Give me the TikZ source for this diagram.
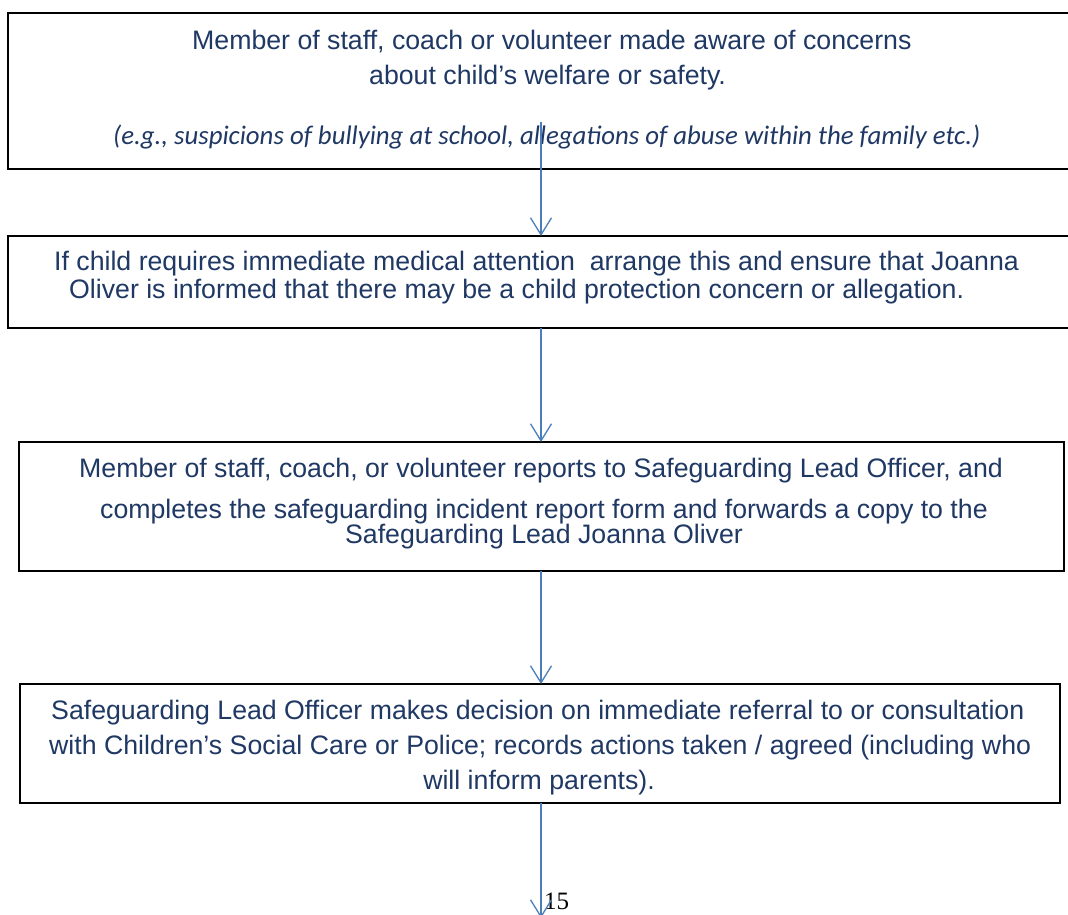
\documentclass[tikz,border=0pt]{standalone}
\usepackage{fontspec}
\setmainfont{Liberation Sans}
\newfontfamily\calibfont{Carlito}
\newfontfamily\seriffont{Liberation Serif}
\usetikzlibrary{arrows.meta}
\definecolor{navy}{HTML}{1F3864}
\definecolor{flowblue}{HTML}{4A7EBB}
\begin{document}
\begin{tikzpicture}[x=1pt,y=-1pt,
  box/.style={draw=black,line width=2pt,anchor=north west,inner sep=0pt,outer sep=0pt},
  txt/.style={text=navy,font=\fontsize{26.7}{30}\selectfont,inner sep=0pt,anchor=base},
  txtw/.style={txt,anchor=base west},
  note/.style={text=navy,font=\calibfont\itshape\fontsize{26.8}{30}\selectfont,inner sep=0pt,anchor=base west},
  flow/.style={draw=flowblue,line width=1.3pt,-{Straight Barb[length=17pt,width=21pt]}}]
\useasboundingbox (0,0) rectangle (1068,915);
\fill[white] (0,0) rectangle (1068,915);
% boxes
\node[box,minimum width=1067pt,minimum height=156pt] (b1) at (8,13) {};
\node[box,minimum width=1067pt,minimum height=92pt] (b2) at (8,236) {};
\node[box,minimum width=1045pt,minimum height=129pt] (b3) at (19,442) {};
\node[box,minimum width=1040pt,minimum height=119pt] (b4) at (20,684) {};
% box texts
\node[txtw] (t11) at (192,50) {Member of staff, coach or volunteer made aware of concerns};
\node[txtw] (t12) at (369,85) {about child’s welfare or safety.};
\node[note] (t13) at (113,145) {(e.g., suspicions of bullying at school, allegations of abuse within the family etc.)};
\node[txtw] (t21) at (54,270) {If child requires immediate medical attention\ \ arrange this and ensure that Joanna};
\node[txtw] (t22) at (69,298) {Oliver is informed that there may be a child protection concern or allegation.};
\node[txtw] (t31) at (79,477) {Member of staff, coach, or volunteer reports to Safeguarding Lead Officer, and};
\node[txtw] (t32) at (100,518) {completes the safeguarding incident report form and forwards a copy to the};
\node[txt] (t33) at (544,543) {Safeguarding Lead Joanna Oliver};
\node[txtw] (t41) at (51,719) {Safeguarding Lead Officer makes decision on immediate referral to or consultation};
\node[txtw] (t42) at (49,754) {with Children’s Social Care or Police; records actions taken / agreed (including who};
\node[txt] (t43) at (539,789) {will inform parents).};
% page number
\node[font=\seriffont\fontsize{25}{29}\selectfont,inner sep=0pt,anchor=base west] (pg) at (544,909) {15};
% connectors
\coordinate (s1) at (541,122);
\coordinate (e4) at (541,918);
\draw[flow] (s1) -- (s1 |- b2.north);
\draw[flow] (s1 |- b2.south) -- (s1 |- b3.north);
\draw[flow] (s1 |- b3.south) -- (s1 |- b4.north);
\draw[flow] (s1 |- b4.south) -- (e4);
\end{tikzpicture}
\end{document}
